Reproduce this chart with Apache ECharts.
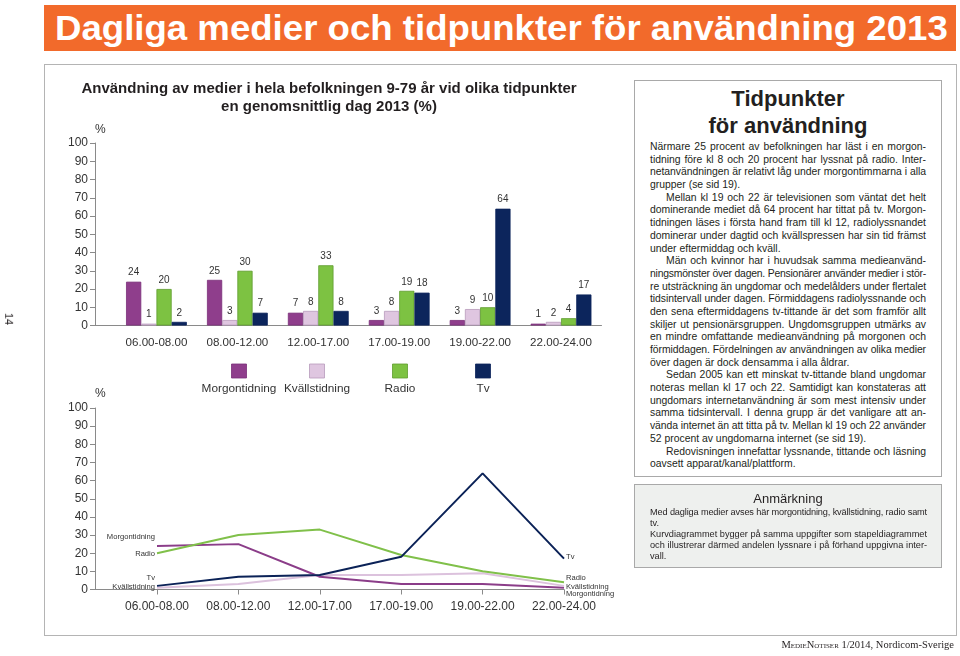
<!DOCTYPE html>
<html><head><meta charset="utf-8">
<script src="https://cdn.jsdelivr.net/npm/echarts@6/dist/echarts.min.js"></script>
<style>
html,body{margin:0;padding:0;background:#fff;}
body{width:960px;height:656px;position:relative;overflow:hidden;font-family:"Liberation Sans",Arial,sans-serif;color:#231f20;}
.abs{position:absolute;}
#frame{left:44px;top:64px;width:913px;height:572px;border:1px solid #b4b4b4;box-sizing:border-box;}
#chart{position:absolute;left:0;top:0;width:960px;height:656px;}
#banner{left:44px;top:5px;width:912px;height:46px;background:#f26a2b;overflow:hidden;}
#bannerText{position:absolute;left:11px;top:0;line-height:46px;font-size:35px;font-weight:bold;color:#fff;white-space:nowrap;transform-origin:0 50%;}
#box1{left:634px;top:80px;width:308px;height:397px;border:1px solid #a9a9a9;box-sizing:border-box;background:#fff;}
#box1 .t{position:absolute;left:0;top:4px;width:100%;text-align:center;font-size:22px;font-weight:bold;line-height:27px;color:#231f20;}
#box1 .b{position:absolute;left:15px;top:60px;width:276px;font-size:10.4px;line-height:12.7px;color:#231f20;}
.l{text-align:justify;text-align-last:justify;height:12.7px;white-space:nowrap;overflow:visible;}
.l.e{text-align-last:left;}
.l.i{padding-left:16px;}
#box2{left:634px;top:484px;width:308px;height:84px;border:1px solid #a9a9a9;box-sizing:border-box;background:#eef0ee;}
#box2 .t{position:absolute;left:0;top:6px;width:100%;text-align:center;font-size:13px;line-height:15px;color:#231f20;}
#box2 .b{position:absolute;left:15px;top:22px;width:277px;font-size:9.2px;line-height:11px;color:#231f20;}
#box2 .l{height:11px;}
#footer{right:6px;top:638px;font-family:"Liberation Serif","Times New Roman",serif;font-size:10.5px;line-height:14px;color:#231f20;white-space:nowrap;}
#page{left:3px;top:313px;font-size:11px;line-height:12px;transform:rotate(90deg);transform-origin:50% 50%;color:#231f20;}
</style></head>
<body>
<div id="frame" class="abs"></div>
<div id="chart"></div>
<div id="banner" class="abs"><span id="bannerText">Dagliga medier och tidpunkter för användning 2013</span></div>
<div id="box1" class="abs">
 <div class="t">Tidpunkter<br>för användning</div>
 <div class="b">
  <div class="l">Närmare 25 procent av befolkningen har läst i en morgon-</div>
  <div class="l">tidning före kl 8 och 20 procent har lyssnat på radio. Inter-</div>
  <div class="l">netanvändningen är relativt låg under morgontimmarna i alla</div>
  <div class="l e">grupper (se sid 19).</div>
  <div class="l i">Mellan kl 19 och 22 är televisionen som väntat det helt</div>
  <div class="l">dominerande mediet då 64 procent har tittat på tv. Morgon-</div>
  <div class="l">tidningen läses i första hand fram till kl 12, radiolyssnandet</div>
  <div class="l">dominerar under dagtid och kvällspressen har sin tid främst</div>
  <div class="l e">under eftermiddag och kväll.</div>
  <div class="l i">Män och kvinnor har i huvudsak samma medieanvänd-</div>
  <div class="l">ningsmönster över dagen. Pensionärer använder medier i stör-</div>
  <div class="l">re utsträckning än ungdomar och medelålders under flertalet</div>
  <div class="l">tidsintervall under dagen. Förmiddagens radiolyssnande och</div>
  <div class="l">den sena eftermiddagens tv-tittande är det som framför allt</div>
  <div class="l">skiljer ut pensionärsgruppen. Ungdomsgruppen utmärks av</div>
  <div class="l">en mindre omfattande medieanvändning på morgonen och</div>
  <div class="l">förmiddagen. Fördelningen av användningen av olika medier</div>
  <div class="l e">över dagen är dock densamma i alla åldrar.</div>
  <div class="l i">Sedan 2005 kan ett minskat tv-tittande bland ungdomar</div>
  <div class="l">noteras mellan kl 17 och 22. Samtidigt kan konstateras att</div>
  <div class="l">ungdomars internetanvändning är som mest intensiv under</div>
  <div class="l">samma tidsintervall. I denna grupp är det vanligare att an-</div>
  <div class="l">vända internet än att titta på tv. Mellan kl 19 och 22 använder</div>
  <div class="l e">52 procent av ungdomarna internet (se sid 19).</div>
  <div class="l i">Redovisningen innefattar lyssnande, tittande och läsning</div>
  <div class="l e">oavsett apparat/kanal/plattform.</div>
 </div>
</div>
<div id="box2" class="abs">
 <div class="t">Anmärkning</div>
 <div class="b">
  <div class="l">Med dagliga medier avses här morgontidning, kvällstidning, radio samt</div>
  <div class="l e">tv.</div>
  <div class="l">Kurvdiagrammet bygger på samma uppgifter som stapeldiagrammet</div>
  <div class="l">och illustrerar därmed andelen lyssnare i på förhand uppgivna inter-</div>
  <div class="l e">vall.</div>
 </div>
</div>
<div id="footer" class="abs"><span style="font-variant:small-caps">MedieNotiser</span> 1/2014, Nordicom-Sverige</div>
<div id="page" class="abs">14</div>
<script>
// ---- data ----
const categories = ['06.00-08.00', '08.00-12.00', '12.00-17.00', '17.00-19.00', '19.00-22.00', '22.00-24.00'];
const seriesNames = ['Morgontidning', 'Kvällstidning', 'Radio', 'Tv'];
const morgontidning = [24, 25, 7, 3, 3, 1];
const kvallstidning = [1, 3, 8, 8, 9, 2];
const radio = [20, 30, 33, 19, 10, 4];
const tv = [2, 7, 8, 18, 64, 17];
const chartTitle = 'Användning av medier i hela befolkningen 9-79 år vid olika tidpunkter\nen genomsnittlig dag 2013 (%)';
const yUnit = '%';
const yMin = 0, yMax = 100, yStep = 10;

// ---- banner fit ----
(function(){
  const bt = document.getElementById('bannerText');
  const w = bt.offsetWidth;
  bt.style.transform = 'scaleX(' + (893 / w) + ')';
})();

// ---- justified line fitting: shrink letter-spacing when a line is wider than its box ----
document.querySelectorAll('.l').forEach(function(div){
  const txtc = div.textContent;
  const probe = document.createElement('span');
  probe.style.whiteSpace = 'nowrap';
  probe.textContent = txtc;
  div.textContent = '';
  div.appendChild(probe);
  const natural = probe.getBoundingClientRect().width;
  const cs = getComputedStyle(div);
  const avail = div.clientWidth - parseFloat(cs.paddingLeft) - parseFloat(cs.paddingRight);
  div.textContent = txtc;
  if (natural > avail - 0.5) {
    const ls = (avail - 0.5 - natural) / txtc.length;
    div.style.letterSpacing = ls + 'px';
  }
});

// ---- styles ----
const values = [morgontidning, kvallstidning, radio, tv];
const barColors = ['#8f3e8c', '#dfc6e0', '#7dc242', '#0c255c'];
const barBorders = ['#7a2f78', '#b89bbb', '#5f9c2e', '#0c255c'];
const lineColors = ['#8b3d89', '#dcc2dd', '#80c04a', '#0b2257'];
const axisColor = '#8a8a8a';
const txt = '#333';
const FONT = '"Liberation Sans", Arial, sans-serif';
// vertical nudges of the end-of-line name labels (first point, last point)
const leftDy = [-9, -1, 1, -8];
const rightDy = [6, 1, -4, -2];
const legendX = [239, 317, 400, 483];

const chart = echarts.init(document.getElementById('chart'), null, {renderer: 'canvas'});

function yAxisCfg(gi, offset, gap){
  return {
    type: 'value', gridIndex: gi, min: yMin, max: yMax, interval: yStep, offset: offset,
    name: yUnit, nameLocation: 'end', nameGap: gap,
    nameTextStyle: {align: 'left', fontSize: 12, color: txt, fontFamily: FONT},
    axisLine: {show: true, lineStyle: {color: axisColor, width: 1}},
    axisTick: {show: true, length: 5, lineStyle: {color: axisColor}},
    axisLabel: {fontSize: 12, color: txt, margin: 7, fontFamily: FONT},
    splitLine: {show: false}
  };
}

const series = [];
values.forEach((arr, i) => {
  series.push({
    type: 'bar', name: seriesNames[i], xAxisIndex: 0, yAxisIndex: 0,
    data: arr, barWidth: 15.2, barGap: '0%',
    itemStyle: {color: barColors[i], borderColor: barBorders[i], borderWidth: 0.8},
    label: {show: true, position: 'top', distance: 4, fontSize: 10, color: txt, fontFamily: FONT},
    animation: false
  });
});
values.forEach((arr, i) => {
  const n = arr.length;
  const lab = (pos) => ({show: true, position: pos, distance: 2, formatter: seriesNames[i], fontSize: 7.6, color: txt, fontFamily: FONT});
  series.push({
    type: 'line', name: seriesNames[i], xAxisIndex: 1, yAxisIndex: 1,
    symbol: 'circle', symbolSize: 0.01, showSymbol: true,
    lineStyle: {color: lineColors[i], width: 2},
    itemStyle: {color: lineColors[i]},
    label: {show: false},
    labelLayout: function(p){
      return {hideOverlap: false, dy: p.dataIndex === 0 ? leftDy[i] : rightDy[i]};
    },
    data: arr.map((v, k) => {
      if (k === 0) return {value: v, label: lab('left')};
      if (k === n - 1) return {value: v, label: lab('right')};
      return v;
    }),
    z: 3 + i, animation: false
  });
});

const graphic = [
  {type: 'text', x: 329, y: 80, style: {text: chartTitle, textAlign: 'center', textVerticalAlign: 'top', font: 'bold 15px ' + FONT, lineHeight: 18, fill: '#231f20'}},
  {type: 'line', shape: {x1: 95, y1: 325.5, x2: 116, y2: 325.5}, style: {stroke: axisColor, lineWidth: 1}},
  {type: 'line', shape: {x1: 95, y1: 589.5, x2: 157, y2: 589.5}, style: {stroke: axisColor, lineWidth: 1}}
];
seriesNames.forEach((nm, i) => {
  graphic.push({type: 'rect', shape: {x: legendX[i] - 7.5, y: 364, width: 15, height: 14}, style: {fill: barColors[i], stroke: barBorders[i], lineWidth: 0.8}});
  graphic.push({type: 'text', x: legendX[i], y: 389, style: {text: nm, textAlign: 'center', textVerticalAlign: 'middle', font: '11.8px ' + FONT, fill: txt}});
});

chart.setOption({
  animation: false,
  textStyle: {fontFamily: FONT},
  grid: [
    {left: 116, top: 143, width: 485.5, height: 182.5},
    {left: 157, top: 408, width: 407, height: 181.5}
  ],
  xAxis: [
    {type: 'category', gridIndex: 0, data: categories,
     axisLine: {show: true, lineStyle: {color: axisColor, width: 1}}, axisTick: {show: false},
     axisLabel: {fontSize: 11.6, color: txt, margin: 11, fontFamily: FONT, interval: 0}},
    {type: 'category', gridIndex: 1, data: categories, boundaryGap: false,
     axisLine: {show: true, lineStyle: {color: axisColor, width: 1}}, axisTick: {show: true, length: 5, lineStyle: {color: axisColor}},
     axisLabel: {fontSize: 12, color: txt, margin: 11, fontFamily: FONT, interval: 0}}
  ],
  yAxis: [yAxisCfg(0, 21, 7), yAxisCfg(1, 62, 8)],
  series: series,
  graphic: graphic
});
</script>
</body></html>
